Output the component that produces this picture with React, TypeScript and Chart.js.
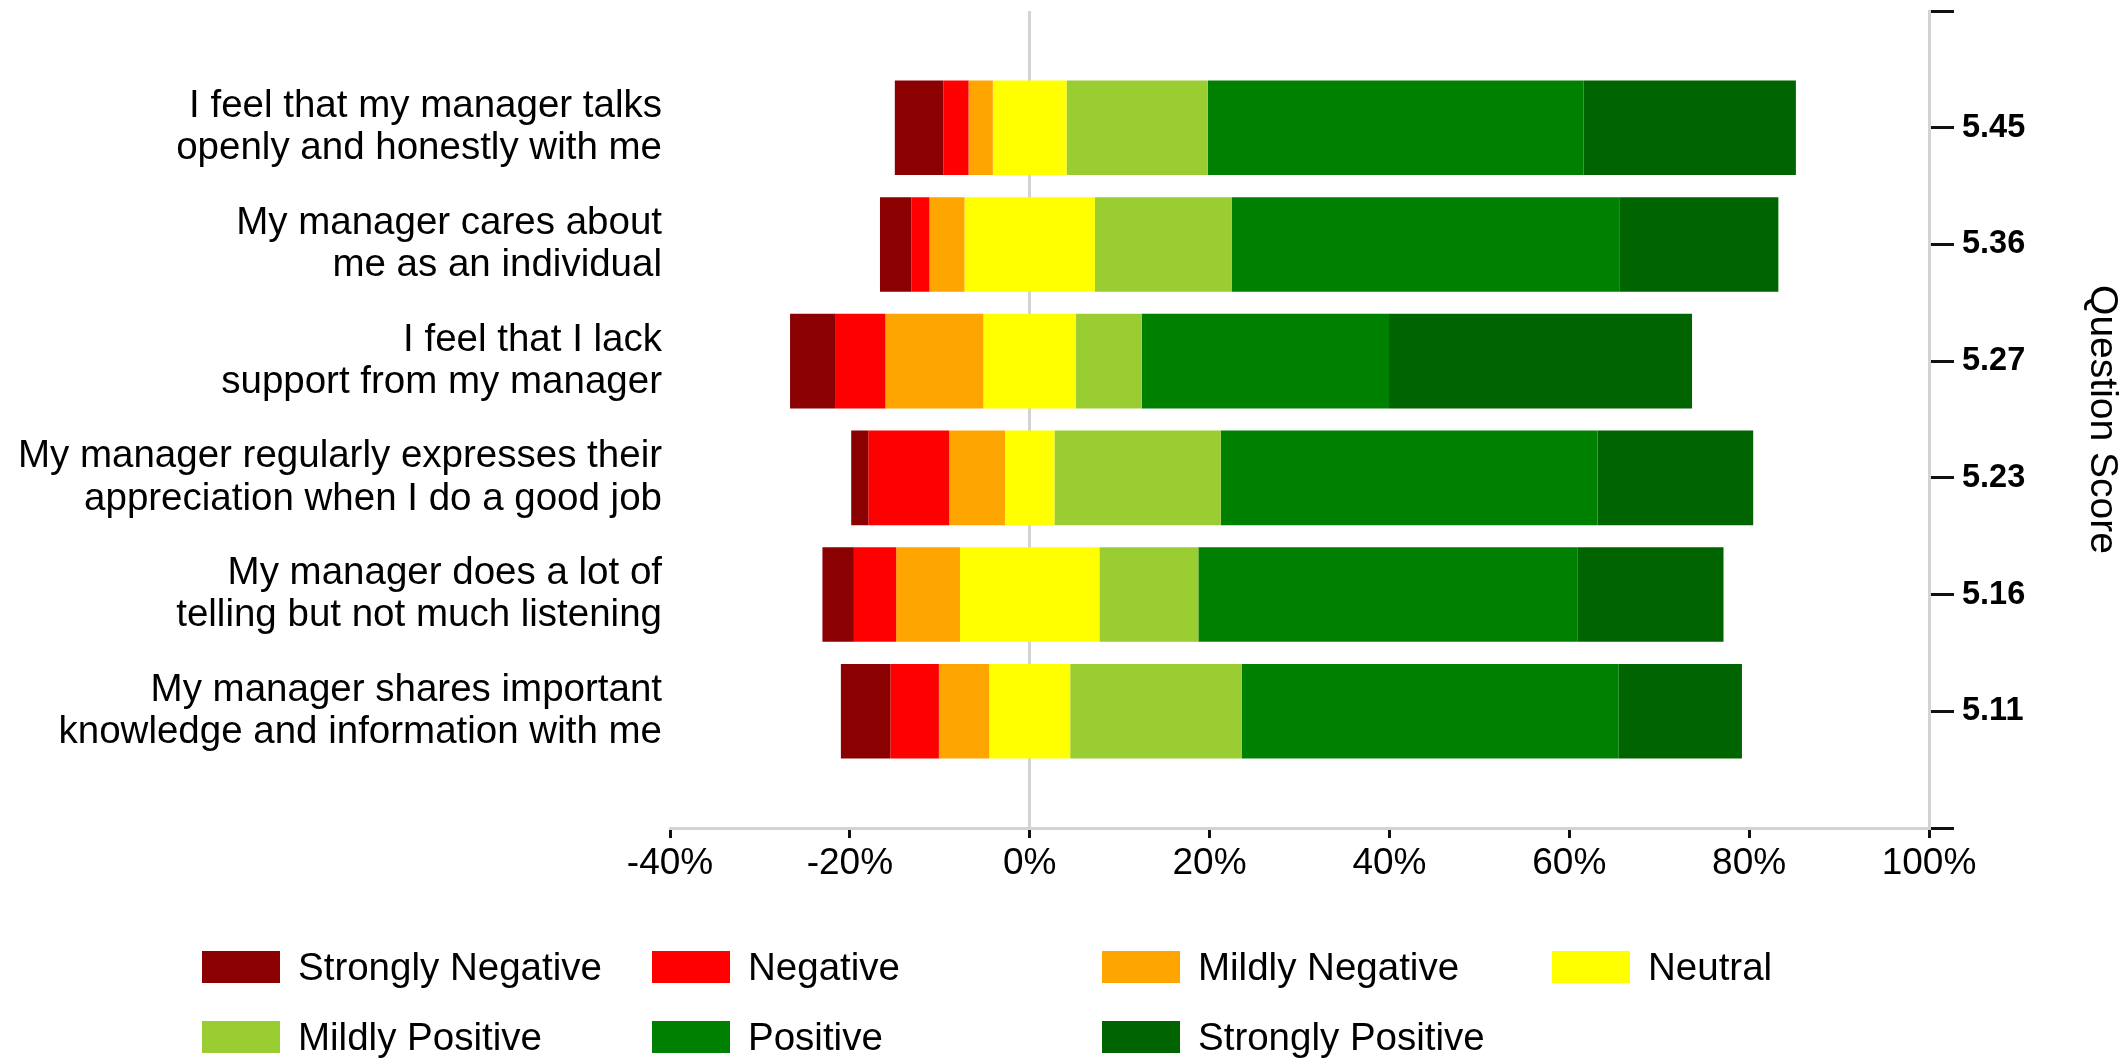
import React, { useEffect, useRef } from 'react';
import { Chart, registerables } from 'chart.js';

Chart.register(...registerables);

const FONT = "'Liberation Sans', Arial, Helvetica, sans-serif";

const questions: string[][] = [
  ['I feel that my manager talks', 'openly and honestly with me'],
  ['My manager cares about', 'me as an individual'],
  ['I feel that I lack', 'support from my manager'],
  ['My manager regularly expresses their', 'appreciation when I do a good job'],
  ['My manager does a lot of', 'telling but not much listening'],
  ['My manager shares important', 'knowledge and information with me'],
];
const questionScores = ['5.45', '5.36', '5.27', '5.23', '5.16', '5.11'];

const responseLevels = [
  'Strongly Negative',
  'Negative',
  'Mildly Negative',
  'Neutral',
  'Mildly Positive',
  'Positive',
  'Strongly Positive',
];
const levelColors = ['#8B0000', '#FF0000', '#FFA500', '#FFFF00', '#9ACD32', '#008000', '#006400'];

// percentages per question (top to bottom)
const stronglyNegative = [5.4, 3.5, 5.0, 1.9, 3.5, 5.5];
const negative = [2.8, 2.0, 5.6, 9.0, 4.7, 5.4];
const mildlyNegative = [2.7, 3.9, 10.9, 6.2, 7.1, 5.6];
const neutral = [8.2, 14.5, 10.3, 5.5, 15.5, 9.0];
const mildlyPositive = [15.7, 15.2, 7.3, 18.5, 11.0, 19.1];
const positive = [41.8, 43.1, 27.5, 41.9, 42.2, 41.9];
const stronglyPositive = [23.6, 17.7, 33.7, 17.3, 16.2, 13.7];

const xMin = -40;
const xMax = 100;
const xStep = 20;

function buildRanges(): (number[] | null)[][] {
  const ranges: (number[] | null)[][] = responseLevels.map(() => [null]);
  for (let i = 0; i < questions.length; i++) {
    const half = neutral[i] / 2;
    // negative side (from zero outwards)
    const mnStart = -half - mildlyNegative[i];
    const nStart = mnStart - negative[i];
    const snStart = nStart - stronglyNegative[i];
    ranges[0].push([snStart, nStart]);
    ranges[1].push([nStart, mnStart]);
    ranges[2].push([mnStart, -half]);
    ranges[3].push([-half, half]);
    const mpEnd = half + mildlyPositive[i];
    const pEnd = mpEnd + positive[i];
    const spEnd = pEnd + stronglyPositive[i];
    ranges[4].push([half, mpEnd]);
    ranges[5].push([mpEnd, pEnd]);
    ranges[6].push([pEnd, spEnd]);
  }
  ranges.forEach((r) => r.push(null));
  return ranges;
}

const gridLegend = {
  id: 'gridLegend',
  afterDraw(chart: any, _args: any, opts: any) {
    const ctx = chart.ctx;
    ctx.save();
    ctx.font = `${opts.fontSize}px ${FONT}`;
    ctx.textBaseline = 'middle';
    ctx.textAlign = 'left';
    const top = chart.chartArea.bottom + opts.offsetTop;
    chart.data.datasets.forEach((ds: any, i: number) => {
      const col = i % opts.columns;
      const row = Math.floor(i / opts.columns);
      const x = opts.left + col * opts.columnWidth;
      const y = top + row * opts.rowHeight;
      ctx.fillStyle = ds.backgroundColor;
      ctx.fillRect(x, y, opts.boxWidth, opts.boxHeight);
      ctx.fillStyle = '#000';
      ctx.fillText(ds.label, x + opts.boxWidth + opts.gap, y + opts.boxHeight / 2 + 2);
    });
    ctx.restore();
  },
};

export default function App() {
  const ref = useRef<HTMLCanvasElement | null>(null);

  useEffect(() => {
    if (!ref.current) return;
    const ranges = buildRanges();
    const chart = new Chart(ref.current, {
      type: 'bar',
      data: {
        labels: [[''], ...questions, ['']] as any,
        datasets: responseLevels.map((lvl, i) => ({
          label: lvl,
          data: ranges[i] as any,
          backgroundColor: levelColors[i],
          borderWidth: 0,
          grouped: false,
          categoryPercentage: 0.81,
          barPercentage: 1,
        })),
      },
      options: {
        indexAxis: 'y',
        animation: false,
        responsive: false,
        devicePixelRatio: 1,
        layout: { padding: { top: 11, bottom: 160, left: 0, right: 0 } },
        plugins: {
          legend: { display: false },
          tooltip: { enabled: false },
          gridLegend: {
            left: 202,
            offsetTop: 123,
            columns: 4,
            columnWidth: 450,
            rowHeight: 70,
            boxWidth: 78,
            boxHeight: 32,
            gap: 18,
            fontSize: 38.5,
          },
        } as any,
        scales: {
          x: {
            type: 'linear',
            min: xMin,
            max: xMax,
            ticks: {
              stepSize: xStep,
              color: '#000',
              padding: 4,
              font: { family: FONT, size: 37 },
              callback: (v: any) => `${v}%`,
            },
            grid: {
              drawOnChartArea: true,
              color: (c: any) => (c.tick && c.tick.value === 0 ? '#D3D3D3' : 'rgba(0,0,0,0)'),
              tickColor: '#111',
              lineWidth: 3,
              tickLength: 10,
            },
            border: { display: true, color: '#D3D3D3', width: 3 },
            afterFit: (s: any) => {
              s.height = 70;
              s.paddingLeft = 0;
              s.paddingRight = 0;
            },
          },
          y: {
            type: 'category',
            position: 'left',
            offset: false,
            ticks: {
              color: '#000',
              padding: 8,
              autoSkip: false,
              font: { family: FONT, size: 38.5, lineHeight: 1.1 },
            },
            grid: { display: false, drawTicks: false, offset: false },
            border: { display: false },
            afterFit: (s: any) => {
              s.width = 670;
              s.paddingTop = 0;
              s.paddingBottom = 0;
            },
          },
          y2: {
            type: 'category',
            position: 'right',
            offset: false,
            labels: ['', ...questionScores, ''],
            ticks: {
              color: '#000',
              padding: 8,
              autoSkip: false,
              font: { family: FONT, size: 32.5, weight: 'bold' },
            },
            grid: {
              drawOnChartArea: false,
              offset: false,
              color: '#111',
              tickColor: '#111',
              lineWidth: 3,
              tickLength: 25,
            },
            border: { display: true, color: '#D3D3D3', width: 3 },
            title: {
              display: true,
              text: 'Question Score',
              color: '#000',
              font: { family: FONT, size: 39 },
              padding: { top: 3, bottom: 0 },
            },
            afterFit: (s: any) => {
              s.width = 199;
              s.paddingTop = 0;
              s.paddingBottom = 0;
            },
          },
        } as any,
      },
      plugins: [gridLegend],
    });
    return () => chart.destroy();
  }, []);

  return (
    <div style={{ position: 'fixed', left: 0, top: 0, width: 2128, height: 1058, background: '#fff' }}>
      <canvas ref={ref} width={2128} height={1058} style={{ display: 'block', width: 2128, height: 1058 }} />
    </div>
  );
}
